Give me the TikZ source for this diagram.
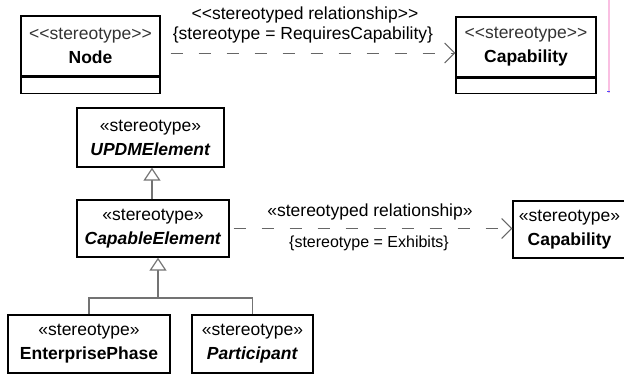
\documentclass[tikz,border=0pt]{standalone}
\usepackage{fontspec}
\setmainfont{Liberation Sans}[Ligatures=TeXOff]
\usepackage{tikz}
\usetikzlibrary{arrows.meta}

\begin{document}
\begin{tikzpicture}[x=1pt,y=1pt,
    umlbox/.style={draw, line width=1.3pt, inner sep=0pt, align=center, font=\fontsize{17.5}{24}\selectfont},
    attrbox/.style={draw, line width=1.3pt, inner sep=0pt, anchor=north},
    dep/.style={draw=black!60, line width=1pt, dash pattern=on 12pt off 16pt, -{Straight Barb[length=10pt,width=20pt]}},
    genline/.style={draw=black!55, line width=1.2pt},
    gen/.style={genline, -{Triangle[open,length=13pt,width=17pt,fill=white]}},
    lbl/.style={inner sep=0pt, font=\fontsize{17.5}{20}\selectfont}]
    \useasboundingbox (0,0) rectangle (624,-375);
    \node [umlbox, minimum width=139pt, minimum height=60pt] (nodebox) at (90.5,-46) {\textcolor{black!80}{<<stereotype>>}\\\textbf{Node}};
    \node [attrbox, minimum width=139pt, minimum height=16pt] (nodeattr) at (nodebox.south) {};
    \node [umlbox, minimum width=140pt, minimum height=60pt] (capbox) at (526,-47) {\textcolor{black!80}{<<stereotype>>}\\\textbf{Capability}};
    \node [attrbox, minimum width=140pt, minimum height=15pt] (capattr) at (capbox.south) {};
    \draw [dep, shorten <=10pt] ([yshift=-7pt]nodebox.east) -- ([yshift=-7pt]nodebox.east -| capbox.west);
    \node [lbl] (relone) at (305,-15) {<<stereotyped relationship>>};
    \node [lbl] (tagone) at (303,-35) {\{stereotype = RequiresCapability\}};
    \draw [magenta!25, line width=1.2pt] (609,0) -- (609,-93);
    \draw [blue!70, line width=1pt] (607,-91) -- (610,-91);
    \node [umlbox, minimum width=147pt, minimum height=59pt] (updm) at (150.5,-137.5) {«stereotype»\\\textbf{\textit{UPDMElement}}};
    \node [umlbox, minimum width=152pt, minimum height=57pt] (capable) at (153,-228.5) {«stereotype»\\\textbf{\textit{CapableElement}}};
    \node [umlbox, minimum width=113pt, minimum height=57pt] (captwo) at (569.5,-229.5) {«stereotype»\\\textbf{Capability}};
    \node [umlbox, minimum width=162pt, minimum height=58pt] (phase) at (89,-344) {«stereotype»\\\textbf{EnterprisePhase}};
    \node [umlbox, minimum width=121pt, minimum height=58pt] (part) at (252.5,-344) {«stereotype»\\\textbf{\textit{Participant}}};
    \draw [gen] ([xshift=-1pt]capable.north) -- ([xshift=-1pt]capable.north |- updm.south);
    \coordinate (join) at (158,-298);
    \draw [genline] (phase.north) |- (join) -| (part.north);
    \draw [gen] (join) -- (join |- capable.south);
    \draw [dep, shorten <=4pt] (capable.east) -- (capable.east -| captwo.west);
    \node [lbl] (reltwo) at (370,-212) {«stereotyped relationship»};
    \node [lbl, font=\fontsize{16}{18}\selectfont] (tagtwo) at (369,-243) {\{stereotype = Exhibits\}};
\end{tikzpicture}
\end{document}
